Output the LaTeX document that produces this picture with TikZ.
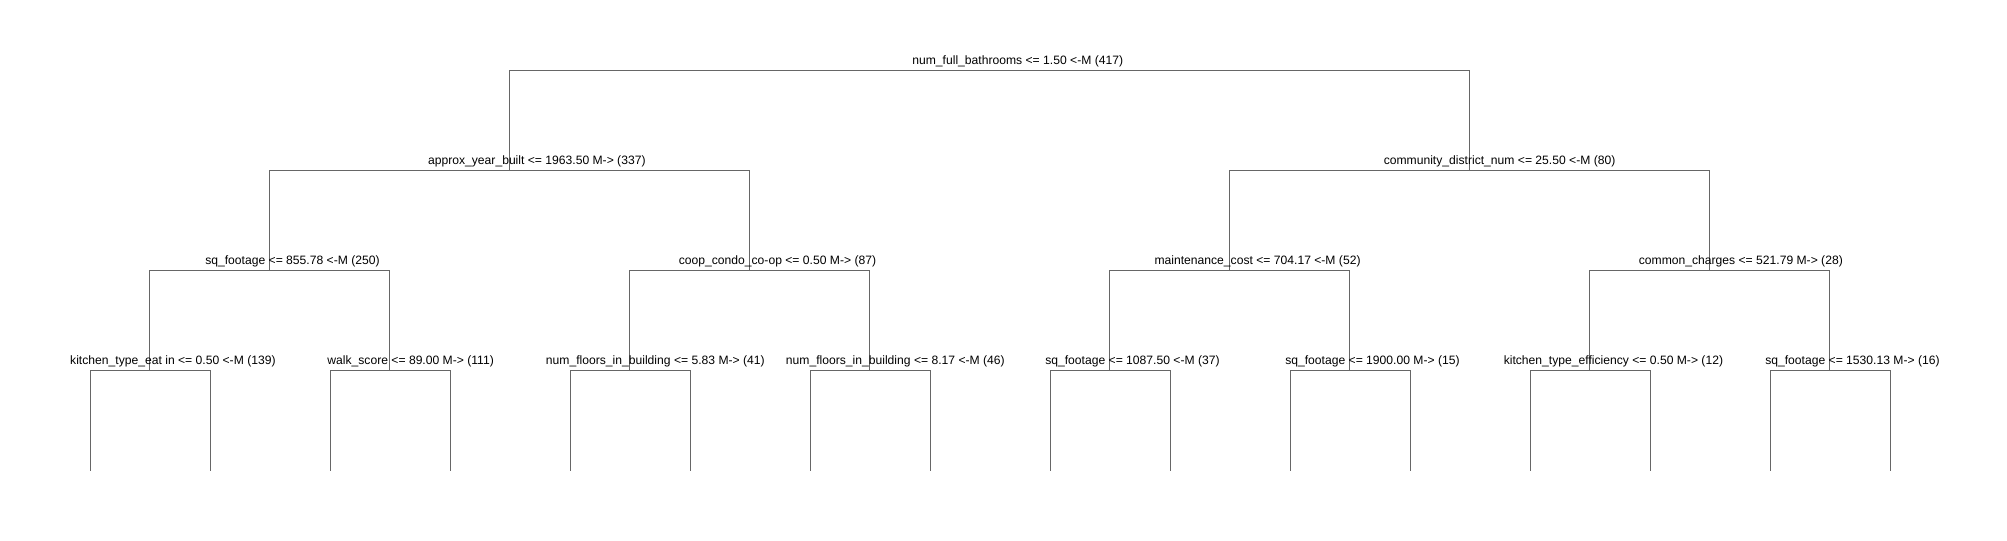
\documentclass[tikz,border=0pt]{standalone}
\usepackage{fontspec}
\setmainfont{Liberation Sans}
\usetikzlibrary{calc}
\definecolor{edgegray}{RGB}{102,102,102}
\tikzset{
  lab/.style={anchor=base west, inner sep=0pt, text=black, font=\fontsize{9.1}{10}\selectfont},
  edge/.style={draw=edgegray, line width=0.75pt},
}
\begin{document}
\begin{tikzpicture}[x=0.75pt, y=-0.75pt]
\useasboundingbox (0,0) rectangle (2007,540);
% tree node positions
\coordinate (r) at (989.5,70.5);
\coordinate (a) at (509.5,170.5);
\coordinate (b) at (1469.5,170.5);
\coordinate (aa) at (269.5,270.5);
\coordinate (ab) at (749.5,270.5);
\coordinate (ba) at (1229.5,270.5);
\coordinate (bb) at (1709.5,270.5);
\coordinate (aaa) at (149.5,370.5);
\coordinate (aab) at (389.5,370.5);
\coordinate (aba) at (629.5,370.5);
\coordinate (abb) at (869.5,370.5);
\coordinate (baa) at (1109.5,370.5);
\coordinate (bab) at (1349.5,370.5);
\coordinate (bba) at (1589.5,370.5);
\coordinate (bbb) at (1829.5,370.5);
\foreach \i in {1,...,16}{
  \coordinate (l\i) at ({90+120*(\i-1)},470.5);
}
% connectors
\draw[edge] (a) -- (a |- r) -- (b |- r) -- (b);
\draw[edge] (aa) -- (aa |- a) -- (ab |- a) -- (ab);
\draw[edge] (ba) -- (ba |- b) -- (bb |- b) -- (bb);
\draw[edge] (aaa) -- (aaa |- aa) -- (aab |- aa) -- (aab);
\draw[edge] (aba) -- (aba |- ab) -- (abb |- ab) -- (abb);
\draw[edge] (baa) -- (baa |- ba) -- (bab |- ba) -- (bab);
\draw[edge] (bba) -- (bba |- bb) -- (bbb |- bb) -- (bbb);
\draw[edge] (l1) -- (l1 |- aaa) -- (l2 |- aaa) -- (l2);
\draw[edge] (l3) -- (l3 |- aab) -- (l4 |- aab) -- (l4);
\draw[edge] (l5) -- (l5 |- aba) -- (l6 |- aba) -- (l6);
\draw[edge] (l7) -- (l7 |- abb) -- (l8 |- abb) -- (l8);
\draw[edge] (l9) -- (l9 |- baa) -- (l10 |- baa) -- (l10);
\draw[edge] (l11) -- (l11 |- bab) -- (l12 |- bab) -- (l12);
\draw[edge] (l13) -- (l13 |- bba) -- (l14 |- bba) -- (l14);
\draw[edge] (l15) -- (l15 |- bbb) -- (l16 |- bbb) -- (l16);
% labels (left edge = node x - 2.15 px per character)
\node[lab] (rl) at ($(r)+({-2.15*36},-6.3)$) {num\_full\_bathrooms <= 1.50 <-M (417)};
\node[lab] (al) at ($(a)+({-2.15*38},-6.3)$) {approx\_year\_built <= 1963.50 M-> (337)};
\node[lab] (bl) at ($(b)+({-2.15*40},-6.3)$) {community\_district\_num <= 25.50 <-M (80)};
\node[lab] (aal) at ($(aa)+({-2.15*30},-6.3)$) {sq\_footage <= 855.78 <-M (250)};
\node[lab] (abl) at ($(ab)+({-2.15*33},-6.3)$) {coop\_condo\_co-op <= 0.50 M-> (87)};
\node[lab] (bal) at ($(ba)+({-2.15*35},-6.3)$) {maintenance\_cost <= 704.17 <-M (52)};
\node[lab] (bbl) at ($(bb)+({-2.15*33},-6.3)$) {common\_charges <= 521.79 M-> (28)};
\node[lab] (aaal) at ($(aaa)+({-2.15*37},-6.3)$) {kitchen\_type\_eat in <= 0.50 <-M (139)};
\node[lab] (aabl) at ($(aab)+({-2.15*29},-6.3)$) {walk\_score <= 89.00 M-> (111)};
\node[lab] (abal) at ($(aba)+({-2.15*39},-6.3)$) {num\_floors\_in\_building <= 5.83 M-> (41)};
\node[lab] (abbl) at ($(abb)+({-2.15*39},-6.3)$) {num\_floors\_in\_building <= 8.17 <-M (46)};
\node[lab] (baal) at ($(baa)+({-2.15*30},-6.3)$) {sq\_footage <= 1087.50 <-M (37)};
\node[lab] (babl) at ($(bab)+({-2.15*30},-6.3)$) {sq\_footage <= 1900.00 M-> (15)};
\node[lab] (bbal) at ($(bba)+({-2.15*40},-6.3)$) {kitchen\_type\_efficiency <= 0.50 M-> (12)};
\node[lab] (bbbl) at ($(bbb)+({-2.15*30},-6.3)$) {sq\_footage <= 1530.13 M-> (16)};
\end{tikzpicture}
\end{document}
